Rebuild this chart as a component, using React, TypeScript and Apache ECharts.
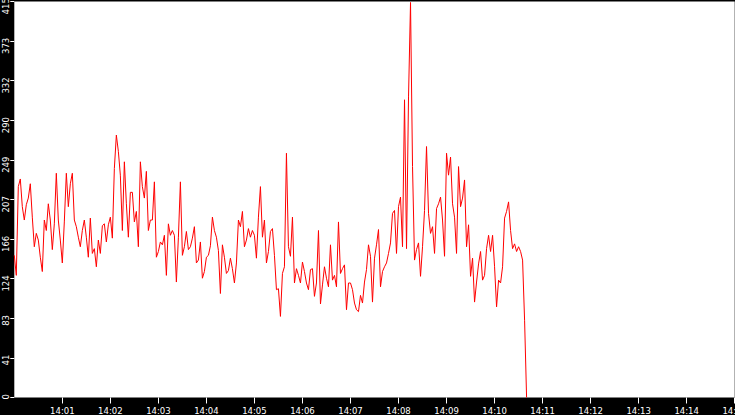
import React, { useEffect, useRef } from "react";
import * as echarts from "echarts";

// seconds between samples, counted from 14:00:00
const sampleStep = 2.5;
const startHour = 14;

const part1 = [149, 128, 221, 229, 200, 186, 202, 209, 224, 189, 158, 172, 165, 147, 132, 186, 175, 203, 186, 155, 182, 235, 186, 165, 141, 184, 235, 200, 224, 235, 186, 179, 168, 158, 175, 186, 168, 147, 188, 151, 156, 137, 165, 151, 180];
const part2 = [182, 163, 181, 189, 167, 240, 275, 258, 233, 175, 247, 203, 168, 215, 215, 184, 195, 158, 247, 221, 209, 237, 175, 186, 186, 226, 147, 153, 163, 160, 170, 128, 182, 170, 175, 170, 121, 168, 226, 149, 158, 174, 155];
const part3 = [158, 167, 179, 141, 144, 163, 125, 132, 147, 149, 159, 189, 175, 168, 154, 109, 160, 147, 130, 133, 146, 135, 120, 141, 186, 179, 195, 158, 165, 177, 168, 175, 170, 146, 189, 221, 168, 186, 141, 153, 174];
const part4 = [177, 149, 113, 114, 85, 130, 137, 256, 158, 148, 189, 120, 135, 128, 120, 142, 132, 120, 113, 134, 135, 106, 120, 175, 98, 118, 137, 125, 116, 160, 123, 128, 116, 184, 130, 135, 139, 92, 120, 120, 113, 99, 92, 90, 107];
const part5 = [99, 121, 134, 160, 148, 100, 146, 160, 176, 116, 132, 137, 141, 151, 162, 193, 196, 151, 200, 210, 158, 312, 156, 315, 414, 242, 144, 155, 162, 127, 158, 196, 263, 193, 172, 179, 151, 198, 203, 210, 186, 148, 256];
const part6 = [233, 252, 203, 189, 151, 242, 200, 209, 228, 158, 181, 127, 146, 100, 121, 140, 153, 123, 128, 156, 170, 153, 170, 137, 95, 123, 120, 137, 188, 195, 205, 175, 156, 161, 153, 158, 153, 144, 81, 0];

const values = [...part1, ...part2, ...part3, ...part4, ...part5, ...part6];

const fmtTime = (sec: number) => {
  const m = Math.round(sec / 60);
  const h = startHour + Math.floor(m / 60);
  return `${h}:${String(m % 60).padStart(2, "0")}`;
};

const App: React.FC = () => {
  const chartref = useRef<HTMLDivElement>(null);
  useEffect(() => {
    const myChart = echarts.init(chartref.current as HTMLDivElement, null, { renderer: "svg" });
    const option: echarts.EChartsOption = {
      animation: false,
      backgroundColor: "#000000",
      textStyle: { fontFamily: "DejaVu Sans" },
      grid: {
        show: true,
        backgroundColor: "#ffffff",
        borderWidth: 0,
        left: 14.3,
        right: 0.3,
        top: 1.5,
        bottom: 17.5,
        containLabel: false,
        outerBoundsMode: "none",
      } as any,
      xAxis: {
        type: "value",
        min: 0,
        max: 900,
        interval: 60,
        axisLine: { show: false },
        axisTick: { show: true, length: 6, lineStyle: { color: "#ffffff" } },
        axisLabel: {
          color: "#ffffff",
          fontSize: 8.5,
          margin: 8.5,
          showMinLabel: false,
          formatter: (v: number) => fmtTime(v),
        },
        splitLine: { show: false },
      },
      yAxis: {
        type: "value",
        min: 0,
        max: 415,
        interval: 41.5,
        axisLine: { show: false },
        axisTick: { show: true, length: 4, lineStyle: { color: "#ffffff" } },
        axisLabel: {
          color: "#ffffff",
          fontSize: 8.5,
          rotate: 90,
          margin: 4,
          align: "right",
          padding: [0, -3.3, 0, 0],
          formatter: (v: number) => String(Math.floor(v)),
        },
        splitLine: { show: false },
      },
      series: [
        {
          type: "line",
          showSymbol: false,
          lineStyle: { color: "#ff0000", width: 1 },
          data: values.map((v, i) => [i * sampleStep, v]),
        },
      ],
    };

    myChart.setOption(option);

    return () => {
      myChart.dispose();
    };
  }, []);

  return (
    <div
      ref={chartref}
      style={{ position: "fixed", left: 0, top: 0, width: "735px", height: "415px" }}
    />
  );
};
export default App;
